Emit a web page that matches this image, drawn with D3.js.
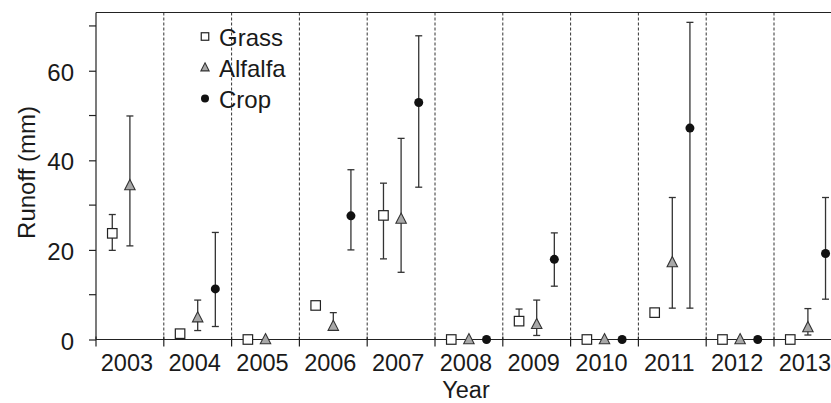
<!DOCTYPE html>
<html><head><meta charset="utf-8">
<script src="https://cdn.jsdelivr.net/npm/d3@7"></script>
<style>
body{margin:0;background:#fff;}
svg{display:block;font-family:"Liberation Sans",Arial,sans-serif;}
</style></head>
<body><svg id="c" width="831" height="403"></svg>
<script>
const years = ["2003","2004","2005","2006","2007","2008","2009","2010","2011","2012","2013"];
const grass     = [23.7, 1.3, 0, 7.6, 27.7, 0, 4.1, 0, 6.0, 0, 0];
const grassLow  = [19.9, null, null, null, 18.0, null, 3.3, null, null, null, null];
const grassHigh = [27.9, null, null, null, 34.9, null, 6.8, null, null, null, null];
const alfalfa     = [34.4, 4.9, 0, 3.0, 26.9, 0, 3.4, 0, 17.2, 0, 2.7];
const alfalfaLow  = [20.9, 2.0, null, 3.0, 15.0, null, 0.9, null, 7.0, null, 1.0];
const alfalfaHigh = [49.9, 8.8, null, 6.0, 44.9, null, 8.8, null, 31.7, null, 6.9];
const crop     = [null, 11.3, null, 27.6, 52.9, 0, 17.9, 0, 47.2, 0, 19.2];
const cropLow  = [null, 2.9, null, 20.0, 34.0, null, 11.9, null, 7.0, null, 9.0];
const cropHigh = [null, 23.9, null, 37.9, 67.8, null, 23.8, null, 70.8, null, 31.7];
const yTicks = [0, 20, 40, 60];
const yMinorTicks = [10, 30, 50, 70];
const seriesNames = ["Grass", "Alfalfa", "Crop"];

(function () {
const svg = d3.select("#c");
const mLeft = 96, mTop = 12.5, mBottom = 339.5, band = 67.8;
const x = d3.scaleBand().domain(years).range([mLeft, mLeft + band * years.length]).padding(0);
const y = d3.scaleLinear().domain([0, 73]).range([mBottom, mTop]);
const off = x.bandwidth() * 0.26;
const fs = 24;
const ink = "#1a1a1a";

// dividers
const bounds = years.slice(1).map(yr => x(yr));
svg.append("g").selectAll("line").data(bounds).join("line")
  .attr("x1", d => d).attr("x2", d => d).attr("y1", mTop).attr("y2", mBottom)
  .attr("stroke", "#333").attr("stroke-width", 1).attr("stroke-dasharray", "3,2");

// top border
svg.append("line").attr("x1", mLeft).attr("x2", 831).attr("y1", mTop).attr("y2", mTop)
  .attr("stroke", "#222").attr("stroke-width", 1.2);

// y axis
const yAxis = svg.append("g").attr("transform", `translate(${mLeft},0)`)
  .call(d3.axisLeft(y).tickValues(yTicks).tickSize(7).tickPadding(15).tickFormat(d3.format("d")));
yAxis.select(".domain").attr("d", `M0,${mTop}V${mBottom}`).attr("stroke", "#222").attr("stroke-width", 1.2);
yAxis.selectAll(".tick line").attr("stroke", "#222").attr("stroke-width", 1.2);
yAxis.selectAll("text").attr("font-size", fs).attr("fill", ink).attr("dy", "0.4em")
  .attr("font-family", "Liberation Sans, Arial, sans-serif");
svg.append("g").selectAll("line").data(yMinorTicks).join("line")
  .attr("x1", mLeft - 7).attr("x2", mLeft).attr("y1", d => y(d)).attr("y2", d => y(d))
  .attr("stroke", "#222").attr("stroke-width", 1.2);

// x axis
svg.append("line").attr("x1", mLeft).attr("x2", 831).attr("y1", mBottom).attr("y2", mBottom)
  .attr("stroke", "#222").attr("stroke-width", 1.2);
svg.append("g").selectAll("line").data([mLeft].concat(bounds)).join("line")
  .attr("x1", d => d).attr("x2", d => d).attr("y1", mBottom - 3).attr("y2", mBottom + 7)
  .attr("stroke", "#222").attr("stroke-width", 1.2);
svg.append("g").selectAll("text").data(years).join("text")
  .attr("x", d => x(d) + x.bandwidth() / 2 - 3).attr("y", 371)
  .attr("text-anchor", "middle").attr("font-size", 23.5).attr("fill", ink).text(d => d);

// axis titles
svg.append("text").attr("x", 466).attr("y", 397.5).attr("text-anchor", "middle")
  .attr("font-size", 23.5).attr("fill", ink).text("Year");
svg.append("text").attr("transform", `translate(35,172.5) rotate(-90)`).attr("text-anchor", "middle")
  .attr("font-size", fs).attr("fill", ink).text("Runoff (mm)");

// series
const series = [
  {name: "Grass", vals: grass, lo: grassLow, hi: grassHigh, dx: -off},
  {name: "Alfalfa", vals: alfalfa, lo: alfalfaLow, hi: alfalfaHigh, dx: 0},
  {name: "Crop", vals: crop, lo: cropLow, hi: cropHigh, dx: off}
];
const capW = 3.5;
function drawMarker(g, name, cx, cy, s) {
  if (name === "Grass") {
    g.append("rect").attr("x", cx - s / 2).attr("y", cy - s / 2).attr("width", s).attr("height", s)
      .attr("fill", "#fff").attr("stroke", "#222").attr("stroke-width", 1.2);
  } else if (name === "Alfalfa") {
    const h = s * 1.0, w = s * 1.1;
    g.append("path").attr("d", `M${cx},${cy - h * 0.62}L${cx + w / 2},${cy + h * 0.45}L${cx - w / 2},${cy + h * 0.45}Z`)
      .attr("fill", "#a8a8a8").attr("stroke", "#333").attr("stroke-width", 1.1);
  } else {
    g.append("circle").attr("cx", cx).attr("cy", cy).attr("r", s / 2).attr("fill", "#111");
  }
}
const eg = svg.append("g");
const mg = svg.append("g");
series.forEach(s => {
  years.forEach((yr, i) => {
    const v = s.vals[i];
    if (v == null) return;
    const cx = x(yr) + x.bandwidth() / 2 + s.dx;
    const lo = s.lo[i], hi = s.hi[i];
    if (lo != null && hi != null) {
      eg.append("line").attr("x1", cx).attr("x2", cx).attr("y1", y(lo)).attr("y2", y(hi))
        .attr("stroke", "#333").attr("stroke-width", 1.3);
      [lo, hi].forEach(e => {
        if (e !== v) eg.append("line").attr("x1", cx - capW).attr("x2", cx + capW)
          .attr("y1", y(e)).attr("y2", y(e)).attr("stroke", "#333").attr("stroke-width", 1.3);
      });
    }
    drawMarker(mg, s.name, cx, y(v), s.name === "Crop" ? 9 : 9.5);
  });
});

// legend
const lg = svg.append("g");
const baselines = [46, 77, 108];
seriesNames.forEach((n, i) => {
  const cy = baselines[i] - 9.5;
  drawMarker(lg, n, 205, cy, n === "Crop" ? 8 : 7.5);
  lg.append("text").attr("x", 219).attr("y", baselines[i]).attr("font-size", fs).attr("fill", ink).text(n);
});
})();
</script></body></html>
